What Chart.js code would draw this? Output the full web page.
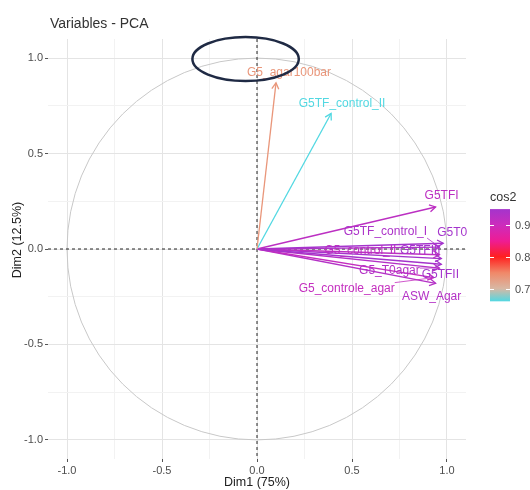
<!DOCTYPE html>
<html>
<head>
<meta charset="utf-8">
<script src="https://cdn.jsdelivr.net/npm/chart.js@4/dist/chart.umd.min.js"></script>
<style>
  html, body { margin: 0; padding: 0; background: #fff; }
</style>
</head>
<body>
<canvas id="pca" width="530" height="490"></canvas>
<script>
// PCA variable coordinates
let variables = ['G5_agar100bar', 'G5TF_control_II', 'G5TFI', 'G5TF_control_I', 'G5T0',
                 'G5_control_II', 'G5TFIII', 'G5TFII', 'G5_T0agar', 'G5_controle_agar', 'ASW_Agar'];
let dim1 = [0.10, 0.39, 0.94, 0.96, 0.98, 0.96, 0.97, 0.97, 0.96, 0.93, 0.94];
let dim2 = [0.87, 0.71, 0.22, 0.01, 0.03, -0.03, -0.05, -0.08, -0.10, -0.15, -0.18];
let cos2 = [0.735, 0.66, 0.92, 0.94, 0.95, 0.92, 0.95, 0.95, 0.93, 0.91, 0.93];

let tickValues = [-1, -0.5, 0, 0.5, 1];
let gridValues = [-1, -0.75, -0.5, -0.25, 0, 0.25, 0.5, 0.75, 1];
let legendTicks = [0.7, 0.8, 0.9];
let cos2Range = [0.66, 0.95];

// colour ramp for cos2 (low cyan -> red -> purple)
let ramp = [[0.66, '#52d8e2'], [0.70, '#d8b8a4'], [0.75, '#f08868'], [0.80, '#ff2020'],
            [0.85, '#ee1c94'], [0.90, '#cc2cbc'], [0.95, '#a434cc']];

function hexToRgb(h) {
    return [parseInt(h.substr(1, 2), 16), parseInt(h.substr(3, 2), 16), parseInt(h.substr(5, 2), 16)];
}

function colorFor(v) {
    if (v <= ramp[0][0]) return ramp[0][1];
    for (let i = 1; i < ramp.length; i++) {
        if (v <= ramp[i][0]) {
            let t = (v - ramp[i-1][0]) / (ramp[i][0] - ramp[i-1][0]);
            let a = hexToRgb(ramp[i-1][1]), b = hexToRgb(ramp[i][1]);
            let c = a.map((ai, k) => Math.round(ai + (b[k] - ai) * t));
            return `rgb(${c[0]},${c[1]},${c[2]})`;
        }
    }
    return ramp[ramp.length-1][1];
}

// label placement around the arrow tips (pixels), like ggrepel did
let labelOffsets = {
    'G5_agar100bar': [13, -10],
    'G5TF_control_II': [11, -10],
    'G5TFI': [6, -11],
    'G5TF_control_I': [-54, -15, true],
    'G5T0': [9, -11],
    'G5_control_II': [-79, -4],
    'G5TFIII': [-21, -8],
    'G5TFII': [-1, 10],
    'G5_T0agar': [-50, 3, true],
    'G5_controle_agar': [-87, 11, true],
    'ASW_Agar': [-4, 13]
};

let fontFamily = "'Liberation Sans', Arial, sans-serif";

let datasets = variables.map((name, i) => ({
    label: name,
    data: [{x: 0, y: 0}, {x: dim1[i], y: dim2[i]}],
    showLine: true,
    borderColor: colorFor(cos2[i]),
    borderWidth: 1.3,
    pointRadius: 0
}));

function isMajor(v) {
    return tickValues.some(t => Math.abs(t - v) < 1e-9);
}

function axisConfig(fit) {
    return {
        type: 'linear',
        min: -1.1,
        max: 1.1,
        afterBuildTicks: scale => { scale.ticks = gridValues.map(v => ({value: v})); },
        afterFit: fit,
        border: {display: false},
        grid: {
            color: ctx => isMajor(ctx.tick.value) ? '#e4e4e4' : '#f2f2f2',
            tickColor: ctx => isMajor(ctx.tick.value) ? '#555555' : 'rgba(0,0,0,0)',
            tickLength: 3,
            lineWidth: 1
        },
        ticks: {
            autoSkip: false,
            maxRotation: 0,
            padding: 2,
            color: '#4d4d4d',
            font: {family: fontFamily, size: 11},
            callback: v => isMajor(v) ? Number(v).toFixed(1) : ''
        }
    };
}

const pcaDecor = {
    id: 'pcaDecor',
    beforeDatasetsDraw(chart) {
        const {ctx, chartArea: a, scales: {x, y}} = chart;
        const cx = x.getPixelForValue(0), cy = y.getPixelForValue(0);
        ctx.save();
        // correlation circle
        ctx.strokeStyle = '#c8c8c8';
        ctx.lineWidth = 1;
        ctx.beginPath();
        ctx.ellipse(cx, cy, x.getPixelForValue(1) - cx, cy - y.getPixelForValue(1), 0, 0, 2 * Math.PI);
        ctx.stroke();
        // dashed zero lines
        ctx.strokeStyle = '#222';
        ctx.setLineDash([3, 3]);
        ctx.beginPath();
        ctx.moveTo(a.left, cy); ctx.lineTo(a.right, cy);
        ctx.moveTo(cx, a.top); ctx.lineTo(cx, a.bottom);
        ctx.stroke();
        ctx.restore();
    },
    afterDatasetsDraw(chart) {
        const {ctx} = chart;
        ctx.save();
        // arrow heads
        chart.data.datasets.forEach((ds, i) => {
            const pts = chart.getDatasetMeta(i).data;
            const p0 = pts[0], p1 = pts[1];
            const ang = Math.atan2(p1.y - p0.y, p1.x - p0.x);
            ctx.strokeStyle = ds.borderColor;
            ctx.lineWidth = 1.3;
            ctx.beginPath();
            ctx.moveTo(p1.x - 7 * Math.cos(ang - Math.PI / 6), p1.y - 7 * Math.sin(ang - Math.PI / 6));
            ctx.lineTo(p1.x, p1.y);
            ctx.lineTo(p1.x - 7 * Math.cos(ang + Math.PI / 6), p1.y - 7 * Math.sin(ang + Math.PI / 6));
            ctx.stroke();
        });
        // variable labels
        ctx.font = `12px ${fontFamily}`;
        ctx.textAlign = 'center';
        ctx.textBaseline = 'middle';
        chart.data.datasets.forEach((ds, i) => {
            const tip = chart.getDatasetMeta(i).data[1];
            const off = labelOffsets[ds.label];
            const lx = tip.x + off[0], ly = tip.y + off[1];
            ctx.fillStyle = ds.borderColor;
            ctx.fillText(ds.label, lx, ly);
            if (off[2]) {
                const w = ctx.measureText(ds.label).width;
                const ex = Math.min(Math.max(tip.x, lx - w / 2), lx + w / 2);
                const ey = Math.min(Math.max(tip.y, ly - 6), ly + 6);
                ctx.strokeStyle = ds.borderColor;
                ctx.lineWidth = 0.8;
                ctx.beginPath();
                ctx.moveTo(ex, ey);
                ctx.lineTo(tip.x, tip.y);
                ctx.stroke();
            }
        });
        ctx.restore();
    },
    afterDraw(chart) {
        const {ctx, scales: {x, y}} = chart;
        ctx.save();
        // title and axis titles
        ctx.fillStyle = '#333';
        ctx.textBaseline = 'middle';
        ctx.textAlign = 'left';
        ctx.font = `14px ${fontFamily}`;
        ctx.fillText('Variables - PCA', 50, 24);
        ctx.fillStyle = '#222';
        ctx.textAlign = 'center';
        ctx.font = `12.5px ${fontFamily}`;
        ctx.fillText('Dim1 (75%)', x.getPixelForValue(0), 483);
        ctx.save();
        ctx.translate(18, 240);
        ctx.rotate(-Math.PI / 2);
        ctx.fillText('Dim2 (12.5%)', 0, 0);
        ctx.restore();

        // cos2 colour bar
        const bx = 490, bw = 20;
        const vy = v => 225 + (0.9 - v) * 318;
        const top = vy(cos2Range[1]), bot = vy(cos2Range[0]);
        const grad = ctx.createLinearGradient(0, bot, 0, top);
        ramp.forEach(s => grad.addColorStop((s[0] - cos2Range[0]) / (cos2Range[1] - cos2Range[0]), s[1]));
        ctx.fillStyle = grad;
        ctx.fillRect(bx, top, bw, bot - top);
        ctx.strokeStyle = '#ffffff';
        ctx.lineWidth = 1;
        ctx.fillStyle = '#4d4d4d';
        ctx.textAlign = 'left';
        ctx.font = `11px ${fontFamily}`;
        legendTicks.forEach(v => {
            const ty = Math.round(vy(v)) + 0.5;
            ctx.beginPath();
            ctx.moveTo(bx, ty); ctx.lineTo(bx + 4, ty);
            ctx.moveTo(bx + bw - 4, ty); ctx.lineTo(bx + bw, ty);
            ctx.stroke();
            ctx.fillText(v.toFixed(1), bx + bw + 5, ty);
        });
        ctx.fillStyle = '#333';
        ctx.font = `12.5px ${fontFamily}`;
        ctx.fillText('cos2', bx, 198);

        // hand-drawn highlight ellipse
        const ex = x.getPixelForValue(-0.06), ey = y.getPixelForValue(0.995);
        const erx = x.getPixelForValue(0.22) - ex, ery = ey - y.getPixelForValue(1.11);
        ctx.strokeStyle = '#1f2a44';
        ctx.lineWidth = 2.5;
        ctx.beginPath();
        ctx.ellipse(ex, ey, erx, ery, 0, 0, 2 * Math.PI);
        ctx.stroke();
        ctx.restore();
    }
};

new Chart(document.getElementById('pca'), {
    type: 'scatter',
    data: {datasets: datasets},
    options: {
        responsive: false,
        animation: false,
        devicePixelRatio: 1,
        layout: {padding: {top: 39, right: 64, left: 0, bottom: 0}},
        plugins: {legend: {display: false}, tooltip: {enabled: false}},
        scales: {
            x: axisConfig(scale => { scale.height = 31; }),
            y: axisConfig(scale => { scale.width = 48; })
        }
    },
    plugins: [pcaDecor]
});
</script>
</body>
</html>
